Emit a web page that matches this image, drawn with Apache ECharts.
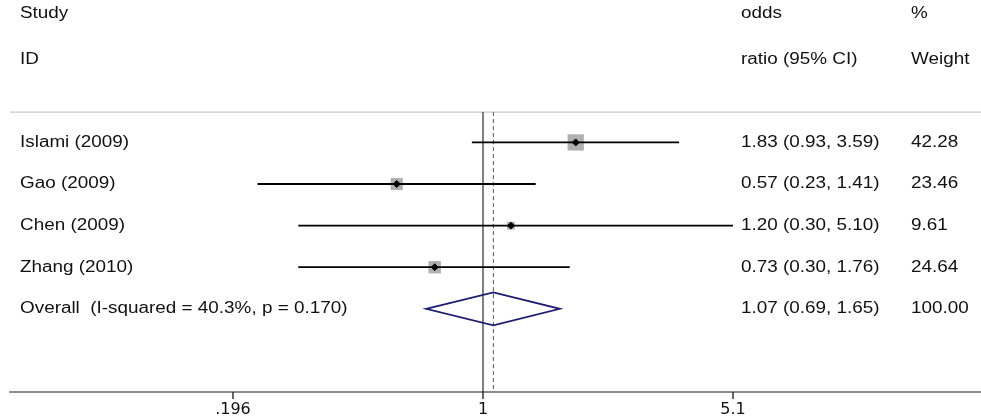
<!DOCTYPE html>
<html lang="en">
<head>
  <meta charset="UTF-8">
  <title>Forest plot</title>
  <script src="https://cdn.jsdelivr.net/npm/echarts@6.0.0/dist/echarts.min.js"></script>
  <style>
    html, body { margin: 0; padding: 0; background: #fff; }
  </style>
</head>
<body>
<div id="chart" style="width: 981px; height: 418px"></div>
<script>
  // study level data
  const studies = ['Islami (2009)', 'Gao (2009)', 'Chen (2009)', 'Zhang (2010)'];
  const oddsRatio = [1.83, 0.57, 1.20, 0.73];
  const ciLow = [0.93, 0.23, 0.30, 0.30];
  const ciHigh = [3.59, 1.41, 5.10, 1.76];
  const weights = [42.28, 23.46, 9.61, 24.64];

  // pooled estimate
  const overallLabel = 'Overall  (I-squared = 40.3%, p = 0.170)';
  const overallOR = 1.07;
  const overallLow = 0.69;
  const overallHigh = 1.65;
  const overallWeight = 100.00;

  // x axis ticks
  const tickValues = [0.196, 1, 5.1];
  const tickLabels = ['.196', '1', '5.1'];

  const FONT = '16px "Liberation Sans", Arial, sans-serif';
  const STRETCH = 1.18;
  const COL_LABEL = 20;
  const COL_OR = 741;
  const COL_WT = 911;

  const log = v => Math.log10(v);
  const fmt = v => v.toFixed(2);

  function txt(x, y, text) {
    return {
      type: 'text', x: x, y: y, scaleX: STRETCH,
      style: { text: text, font: FONT, fill: '#111', align: 'left', verticalAlign: 'middle' }
    };
  }

  function renderStudy(params, api) {
    const i = params.dataIndex;
    const row = api.value(0);
    const mid = api.coord([api.value(1), row]);
    const lo = api.coord([api.value(2), row]);
    const hi = api.coord([api.value(3), row]);
    const side = 2.5 * Math.sqrt(api.value(4));
    const d = 3.5;
    return {
      type: 'group',
      children: [
        { type: 'rect', shape: { x: mid[0] - side / 2, y: mid[1] - side / 2, width: side, height: side },
          style: { fill: '#b0b0b0' } },
        { type: 'line', shape: { x1: lo[0], y1: lo[1], x2: hi[0], y2: hi[1] },
          style: { stroke: '#000', lineWidth: 1.8 } },
        { type: 'polygon', shape: { points: [[mid[0] - d, mid[1]], [mid[0], mid[1] - d], [mid[0] + d, mid[1]], [mid[0], mid[1] + d]] },
          style: { fill: '#000', stroke: '#000', lineWidth: 1 } },
        txt(COL_LABEL, mid[1], studies[i]),
        txt(COL_OR, mid[1], fmt(oddsRatio[i]) + ' (' + fmt(ciLow[i]) + ', ' + fmt(ciHigh[i]) + ')'),
        txt(COL_WT, mid[1], fmt(weights[i]))
      ]
    };
  }

  function renderOverall(params, api) {
    const row = api.value(0);
    const mid = api.coord([api.value(1), row]);
    const lo = api.coord([api.value(2), row]);
    const hi = api.coord([api.value(3), row]);
    const h = 16.5;
    return {
      type: 'group',
      children: [
        { type: 'polygon', shape: { points: [[lo[0], mid[1]], [mid[0], mid[1] - h], [hi[0], mid[1]], [mid[0], mid[1] + h]] },
          style: { fill: 'rgba(255,255,255,0)', stroke: '#1c1c70', lineWidth: 1.8 } },
        txt(COL_LABEL, mid[1], overallLabel),
        txt(COL_OR, mid[1], fmt(overallOR) + ' (' + fmt(overallLow) + ', ' + fmt(overallHigh) + ')'),
        txt(COL_WT, mid[1], fmt(overallWeight))
      ]
    };
  }

  // x axis is log10(odds ratio); 1 sits at x=483, 353 px per decade
  const xMin = -1.3388;
  const xMax = 1.4096;
  const topRow = -0.73;

  const chart = echarts.init(document.getElementById('chart'));
  const option = {
    animation: false,
    grid: { left: 10, right: 0, top: 1, bottom: 26 },
    xAxis: {
      type: 'value',
      min: xMin,
      max: xMax,
      splitLine: { show: false },
      axisLine: { show: true, onZero: false, lineStyle: { color: '#8a8a8a', width: 2 } },
      axisTick: {
        show: true, length: 7, inside: false,
        customValues: tickValues.map(log),
        lineStyle: { color: '#333', width: 1.5 }
      },
      axisLabel: {
        customValues: tickValues.map(log),
        margin: 10,
        fontFamily: '"DejaVu Sans", sans-serif',
        fontSize: 16,
        color: '#111',
        formatter: function (v) {
          let best = 0;
          tickValues.forEach((t, k) => {
            if (Math.abs(log(t) - v) < Math.abs(log(tickValues[best]) - v)) best = k;
          });
          return tickLabels[best];
        }
      }
    },
    yAxis: {
      type: 'value',
      inverse: true,
      min: -3.4,
      max: 6,
      show: false
    },
    graphic: [
      txt(COL_LABEL, 14, 'Study'),
      txt(COL_LABEL, 60, 'ID'),
      txt(COL_OR, 14, 'odds'),
      txt(COL_OR, 60, 'ratio (95% CI)'),
      txt(COL_WT, 14, '%'),
      txt(COL_WT, 60, 'Weight')
    ],
    series: [
      {
        type: 'line',
        data: [[xMin, topRow], [xMax, topRow]],
        symbol: 'none',
        lineStyle: { color: '#c8c8c8', width: 1.2 },
        silent: true
      },
      {
        type: 'line',
        data: [[0, topRow], [0, 6]],
        symbol: 'none',
        lineStyle: { color: '#000', width: 1 },
        silent: true
      },
      {
        type: 'line',
        data: [[log(overallOR), topRow], [log(overallOR), 6]],
        symbol: 'none',
        lineStyle: { color: '#555', width: 1, type: [4, 3] },
        silent: true
      },
      {
        type: 'custom',
        renderItem: renderStudy,
        encode: { x: [1, 2, 3], y: 0 },
        data: studies.map((s, i) => [i, log(oddsRatio[i]), log(ciLow[i]), log(ciHigh[i]), weights[i]]),
        z: 5
      },
      {
        type: 'custom',
        renderItem: renderOverall,
        encode: { x: [1, 2, 3], y: 0 },
        data: [[4, log(overallOR), log(overallLow), log(overallHigh), overallWeight]],
        z: 5
      }
    ]
  };
  chart.setOption(option);
</script>
</body>
</html>
